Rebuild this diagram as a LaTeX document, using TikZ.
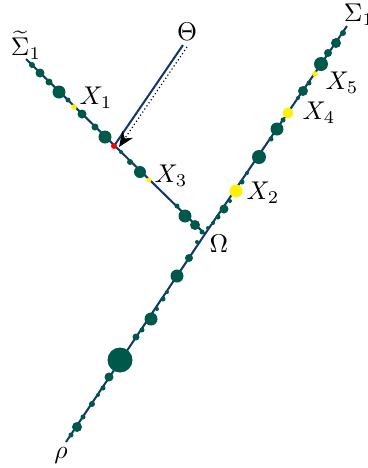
\documentclass[tikz,border=0pt]{standalone}
\usepackage{amsmath}
\usepackage{xcolor}
\usepackage{tikz}
\usetikzlibrary{arrows.meta,calc}
\definecolor{edgeblue}{HTML}{12386A}
\definecolor{beadgreen}{HTML}{00584A}
\definecolor{markyellow}{HTML}{FFF200}

\begin{document}
\begin{tikzpicture}[x=0.39pt,y=-0.39pt,
    branch/.style={edgeblue,line width=0.8pt},
    bead/.style={fill=beadgreen},
    hitdot/.style={fill=markyellow},
    lab/.style={inner sep=1pt}]
  \useasboundingbox (0,0) rectangle (367,468);
  \coordinate (omega) at (205,234);
  \coordinate (rho) at (66,442);
  \coordinate (tleft) at (26,59);
  \coordinate (tright) at (347,26);
  \coordinate (kick) at (114,146);
  \coordinate (ttop) at (183,45);
  \coordinate (dtop) at (187,47);
  \coordinate (dtip) at (119,147);
  \draw[branch] (rho) -- (omega) -- (tleft);
  \draw[branch] (omega) -- (tright);
  \draw[branch] (ttop) -- (kick);
  \draw[densely dotted,line width=0.45pt,-{Stealth[length=6pt,width=5pt]}] (dtop) -- (dtip);
  % beads on the three branches
  \foreach \x/\y/\r in {32/65/3,40/73/4.5,49/82/3.5,59/92/6.5,68/100/2.5,82/114/4.5,95/127/3.5,
      105/137/6.5,121/152/2,130/162/3,140/172/6,177/206/2.5,185/216/6.5,195/225/5,202/232/2.5}
    \fill[bead] (\x,\y) circle[radius=\r];
  \foreach \x/\y/\r in {208/228/2,213/223/2,218/217/2.5,224/209/4.5,230/201/2,242/182/2.5,247/173/2,
      259/157/7,271/139/2.5,277/129/6.5,283/120/2.5,298/98/2,303/91/5,309/83/2.5,321/64/7,
      328/53/4,336/43/5,343/33/3}
    \fill[bead] (\x,\y) circle[radius=\r];
  \foreach \x/\y/\r in {197/242/2,189/258/4,177/276/6.5,167/292/2,163/299/2.5,157/309/2,151/319/6.5,
      142/330/2.5,136/337/3.5,120/360/12.5,109/377/4.5,103/388/2.5,98/395/2,92/404/3,83/417/2.5,
      77/427/5,71/435/2.5}
    \fill[bead] (\x,\y) circle[radius=\r];
  \coordinate (x1) at (74,107);
  \coordinate (x2) at (236,191);
  \coordinate (x3) at (149,180);
  \coordinate (x4) at (288,113);
  \coordinate (x5) at (315,74);
  \fill[hitdot] (x1) circle[radius=2.8];
  \fill[hitdot] (x2) circle[radius=6.5];
  \fill[hitdot] (x3) circle[radius=2.4];
  \fill[hitdot] (x4) circle[radius=5.5];
  \fill[hitdot] (x5) circle[radius=2.8];
  \fill[red] (kick) circle[radius=3];
  \node[lab] (X1) at (96,98) {$X_1$};
  \node[lab] (X2) at (263,193) {$X_2$};
  \node[lab] (X3) at (171,176) {$X_3$};
  \node[lab] (X4) at (319,113) {$X_4$};
  \node[lab] (X5) at (342,83) {$X_5$};
  \node[lab] (Om) at (219,244) {$\Omega$};
  \node[lab] (Th) at (187,32) {$\Theta$};
  \node[lab] (rh) at (61,455) {$\rho$};
  \node[lab] (S1) at (26,45) {$\widetilde{\Sigma}_1$};
  \node[lab] (S2) at (359,15) {$\Sigma_1$};
\end{tikzpicture}
\end{document}
